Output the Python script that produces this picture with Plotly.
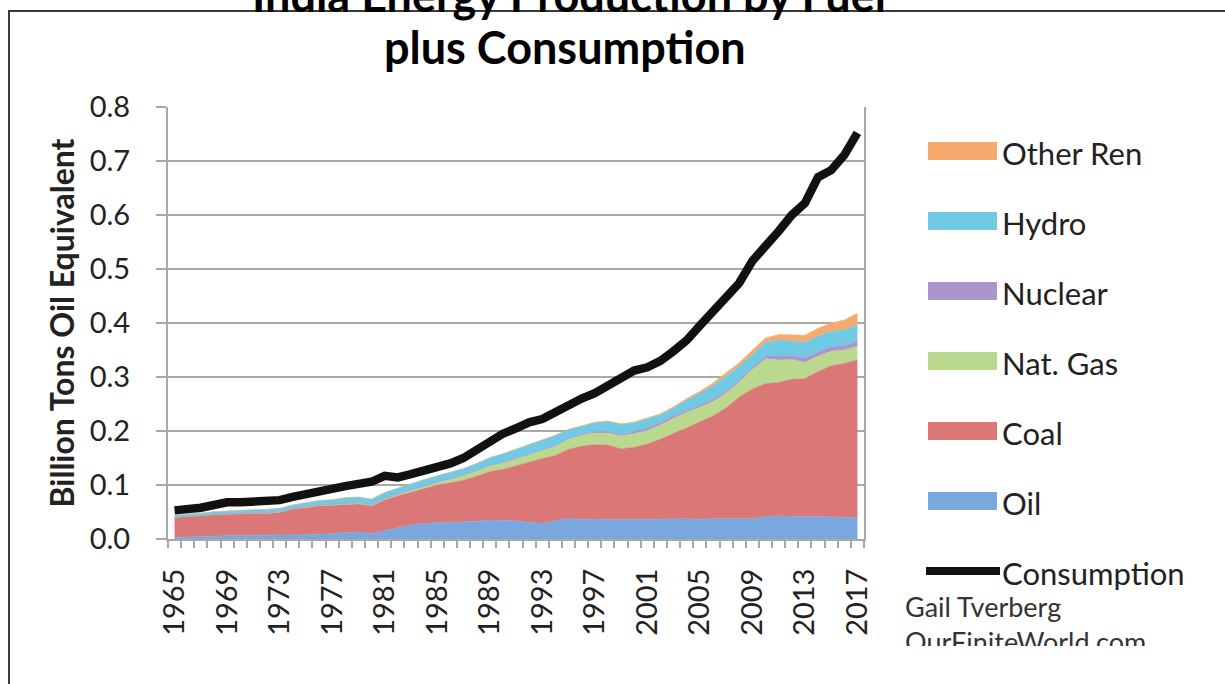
import plotly.graph_objects as go

years = list(range(1965, 2018))

oil = [0.003, 0.004, 0.005, 0.006, 0.007, 0.007, 0.007, 0.007, 0.007, 0.008,
       0.008, 0.009, 0.010, 0.011, 0.013, 0.010, 0.016, 0.021, 0.026, 0.029,
       0.030, 0.031, 0.031, 0.033, 0.035, 0.035, 0.034, 0.031, 0.029, 0.034,
       0.038, 0.036, 0.037, 0.036, 0.036, 0.036, 0.036, 0.037, 0.037, 0.038,
       0.036, 0.038, 0.038, 0.038, 0.038, 0.041, 0.043, 0.042, 0.042, 0.042,
       0.041, 0.040, 0.040]
coal = [0.037, 0.037, 0.038, 0.039, 0.039, 0.039, 0.040, 0.040, 0.042, 0.047,
        0.050, 0.052, 0.052, 0.053, 0.052, 0.051, 0.056, 0.059, 0.061, 0.064,
        0.070, 0.073, 0.078, 0.083, 0.090, 0.094, 0.102, 0.111, 0.120, 0.121,
        0.128, 0.136, 0.138, 0.138, 0.131, 0.134, 0.140, 0.148, 0.158, 0.168,
        0.181, 0.190, 0.205, 0.225, 0.240, 0.247, 0.247, 0.254, 0.255, 0.268,
        0.280, 0.285, 0.292]
gas = [0.0002, 0.0003, 0.0004, 0.0005, 0.0005, 0.0006, 0.0006, 0.0007, 0.0007, 0.0008,
       0.0011, 0.0012, 0.0013, 0.0013, 0.0015, 0.0013, 0.0020, 0.0026, 0.0032, 0.0036,
       0.0042, 0.0063, 0.0079, 0.0093, 0.0102, 0.0113, 0.0123, 0.0146, 0.0159, 0.0166,
       0.0185, 0.0201, 0.0212, 0.0223, 0.0239, 0.0248, 0.0251, 0.0263, 0.0285, 0.0285,
       0.0268, 0.0265, 0.0271, 0.0277, 0.0359, 0.0457, 0.0414, 0.0364, 0.0303, 0.0284,
       0.0265, 0.0249, 0.0251]
nuclear = [0.0, 0.0, 0.0, 0.0, 0.0001, 0.0006, 0.0003, 0.0009, 0.0006, 0.0005,
           0.0006, 0.0009, 0.0006, 0.0006, 0.0007, 0.0007, 0.0007, 0.0005, 0.0009, 0.0010,
           0.0011, 0.0012, 0.0012, 0.0013, 0.0011, 0.0014, 0.0013, 0.0016, 0.0012, 0.0013,
           0.0017, 0.0021, 0.0023, 0.0026, 0.0027, 0.0039, 0.0044, 0.0044, 0.0041, 0.0039,
           0.0040, 0.0040, 0.0038, 0.0033, 0.0038, 0.0052, 0.0073, 0.0075, 0.0075, 0.0078,
           0.0087, 0.0086, 0.0085]
hydro = [0.0038, 0.0043, 0.0045, 0.0048, 0.0052, 0.0056, 0.0064, 0.0062, 0.0064, 0.0066,
         0.0072, 0.0081, 0.0087, 0.0104, 0.0104, 0.0106, 0.0113, 0.0109, 0.0114, 0.0123,
         0.0116, 0.0124, 0.0121, 0.0131, 0.0142, 0.0159, 0.0165, 0.0159, 0.0159, 0.0188,
         0.0164, 0.0155, 0.0169, 0.0188, 0.0186, 0.0169, 0.0168, 0.0146, 0.0155, 0.0191,
         0.0220, 0.0256, 0.0278, 0.0259, 0.0241, 0.0250, 0.0298, 0.0262, 0.0298, 0.0296,
         0.0281, 0.0291, 0.0307]
other_ren = [0.0, 0.0, 0.0, 0.0, 0.0, 0.0, 0.0, 0.0, 0.0, 0.0,
             0.0, 0.0, 0.0, 0.0, 0.0, 0.0, 0.0, 0.0, 0.0, 0.0,
             0.0, 0.0, 0.0, 0.0, 0.0001, 0.0001, 0.0001, 0.0002, 0.0003, 0.0004,
             0.0005, 0.0006, 0.0007, 0.0008, 0.0010, 0.0012, 0.0014, 0.0016, 0.0020, 0.0026,
             0.0035, 0.0048, 0.0060, 0.0065, 0.0077, 0.0084, 0.0104, 0.0120, 0.0128, 0.0145,
             0.0156, 0.0180, 0.0219]
consumption = [0.053, 0.055, 0.058, 0.063, 0.068, 0.068, 0.069, 0.071, 0.072, 0.078,
               0.084, 0.090, 0.094, 0.098, 0.102, 0.106, 0.117, 0.114, 0.120, 0.126,
               0.132, 0.140, 0.150, 0.165, 0.180, 0.195, 0.205, 0.216, 0.222, 0.235,
               0.250, 0.260, 0.270, 0.285, 0.300, 0.312, 0.318, 0.330, 0.348, 0.368,
               0.395, 0.420, 0.448, 0.474, 0.515, 0.541, 0.570, 0.600, 0.622, 0.670,
               0.683, 0.711, 0.752]

area_names = ["Oil", "Coal", "Nat. Gas", "Nuclear", "Hydro", "Other Ren"]
area_values = [oil, coal, gas, nuclear, hydro, other_ren]
area_colors = ["#7BA7DF", "#DB7776", "#BAD98F", "#AB95CF", "#70CAE3", "#F6AA6D"]
line_name = "Consumption"
line_color = "#111111"

tick_years = list(range(1965, 2018, 4))
y_ticks = [0.0, 0.1, 0.2, 0.3, 0.4, 0.5, 0.6, 0.7, 0.8]

title_line1 = "India Energy Production by Fuel"
title_line2 = "plus Consumption"
y_title = "Billion Tons Oil Equivalent"
credit = "Gail Tverberg<br>OurFiniteWorld.com"

FONT = "Lato, 'Open Sans', sans-serif"
GRID = "#A8A8A8"

# plot area in pixels
L, R, T, B = 168, 864, 107, 539
W, H = 1225, 684
PW, PH = R - L, B - T


def px(x):
    return (x - L) / PW


def py(y):
    return (B - y) / PH


fig = go.Figure()
for name, vals, col in zip(area_names, area_values, area_colors):
    fig.add_trace(go.Scatter(
        x=years, y=vals, name=name, mode="lines", stackgroup="one",
        line=dict(width=0.5, color=col), fillcolor=col, showlegend=False,
        hoverinfo="x+y+name"))
fig.add_trace(go.Scatter(
    x=years, y=consumption, name=line_name, mode="lines",
    line=dict(width=8.5, color=line_color), showlegend=False))

shapes = []
annotations = []

# outer frame (cut by the window on the right and bottom)
shapes.append(dict(type="rect", xref="paper", yref="paper",
                   x0=px(9), x1=px(1240), y0=py(700), y1=py(11),
                   line=dict(color="#3A3A3A", width=2), fillcolor="rgba(0,0,0,0)",
                   layer="above"))

# titles (first line is cut by the top edge, as in the reference)
annotations.append(dict(text="<b>%s</b>" % title_line1, xref="paper", yref="paper",
                        x=px(569), y=py(-5), xanchor="center", yanchor="middle",
                        showarrow=False, font=dict(family=FONT, size=45, color="#000")))
annotations.append(dict(text="<b>%s</b>" % title_line2, xref="paper", yref="paper",
                        x=px(565), y=py(47), xanchor="center", yanchor="middle",
                        showarrow=False, font=dict(family=FONT, size=45, color="#000")))

# custom legend
legend_order = list(reversed(range(len(area_names))))
for i, idx in enumerate(legend_order):
    cy = 151 + 70 * i
    shapes.append(dict(type="rect", xref="paper", yref="paper",
                       x0=px(928), x1=px(997), y0=py(cy + 9), y1=py(cy - 9),
                       line=dict(width=0), fillcolor=area_colors[idx]))
    annotations.append(dict(text=area_names[idx], xref="paper", yref="paper",
                            x=px(1000), y=py(cy + 2), xanchor="left", yanchor="middle",
                            showarrow=False,
                            font=dict(family=FONT, size=31, color="#222")))
cy = 151 + 70 * len(area_names)
shapes.append(dict(type="line", xref="paper", yref="paper",
                   x0=px(926), x1=px(1000), y0=py(cy), y1=py(cy),
                   line=dict(color=line_color, width=8)))
annotations.append(dict(text=line_name, xref="paper", yref="paper",
                        x=px(1000), y=py(cy + 2), xanchor="left", yanchor="middle",
                        showarrow=False, font=dict(family=FONT, size=31, color="#222")))

# credit (clipped at the bottom like the reference)
annotations.append(dict(text=credit, xref="paper", yref="paper",
                        x=px(903), y=py(588), xanchor="left", yanchor="top",
                        height=56, valign="top", align="left", showarrow=False,
                        font=dict(family=FONT, size=27, color="#333")))

fig.update_layout(
    width=W, height=H,
    margin=dict(l=L, r=W - R, t=T, b=H - B, autoexpand=False),
    paper_bgcolor="white", plot_bgcolor="white",
    showlegend=False,
    shapes=shapes, annotations=annotations,
    font=dict(family=FONT, color="#222"),
)
fig.update_xaxes(
    range=[1964.5, 2017.5], tickmode="array", tickvals=tick_years,
    ticktext=[str(y) for y in tick_years], tickangle=-90,
    tickfont=dict(family=FONT, size=29, color="#222"),
    ticks="", ticklabelstandoff=16,
    minor=dict(tick0=1964.5, dtick=1, ticks="outside", ticklen=7,
               tickwidth=2, tickcolor=GRID, showgrid=False),
    showgrid=False, showline=True, linecolor=GRID, linewidth=2, mirror=False,
    zeroline=False,
)
fig.update_yaxes(
    range=[0, 0.8], tickmode="array", tickvals=y_ticks,
    ticktext=["%.1f" % v for v in y_ticks],
    tickfont=dict(family=FONT, size=29, color="#222"),
    ticks="outside", ticklen=10, tickwidth=2, tickcolor=GRID,
    ticklabelstandoff=20,
    showgrid=True, gridcolor=GRID, gridwidth=2,
    showline=True, linecolor=GRID, linewidth=2, mirror=True,
    zeroline=False,
    title=dict(text="<b>%s</b>" % y_title, standoff=6,
               font=dict(family=FONT, size=32, color="#222")),
)

fig.write_html("out.html")
